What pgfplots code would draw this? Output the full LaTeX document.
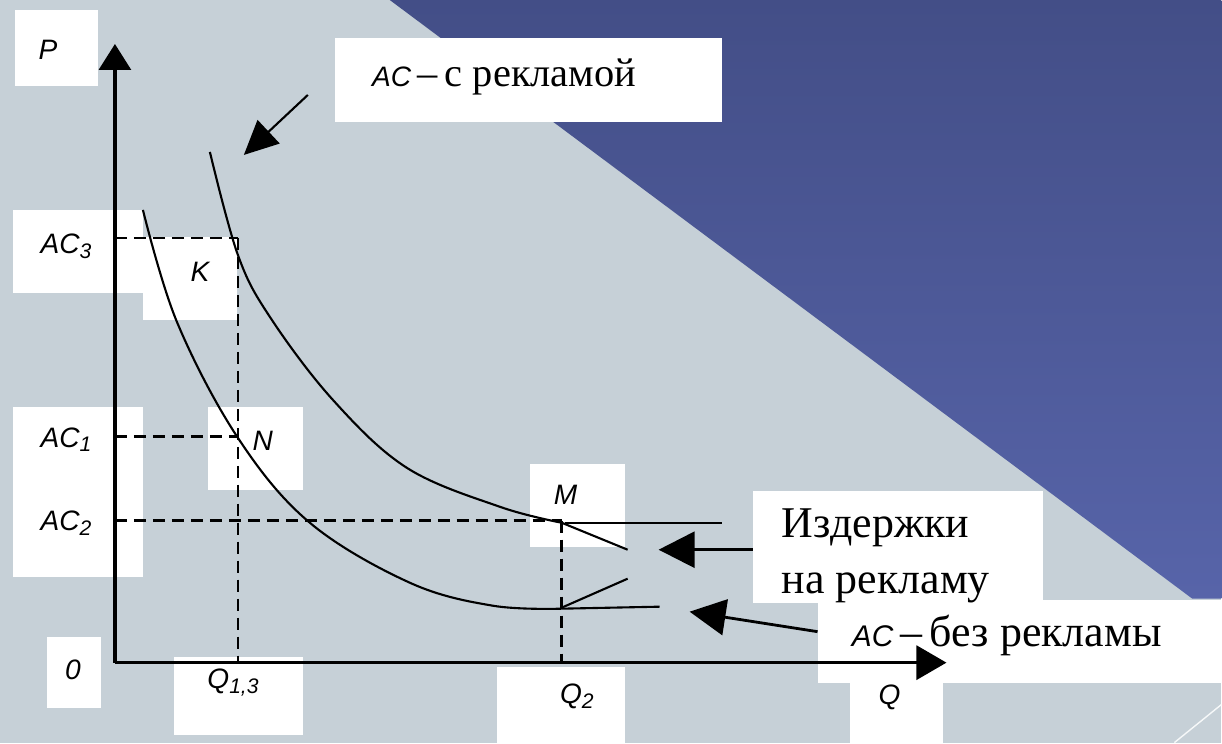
\documentclass[border=0pt]{standalone}
\usepackage{fontspec}
\setmainfont{Liberation Serif}
\setsansfont{Liberation Sans}
\usepackage{pgfplots}
\pgfplotsset{compat=1.18}
\usetikzlibrary{arrows.meta}

\definecolor{bgc}{HTML}{C6D0D7}
\definecolor{dtop}{HTML}{434E87}
\definecolor{dbot}{HTML}{5764A9}

\tikzset{
    lab/.style={font=\sffamily\itshape\fontsize{8}{9}\selectfont},
    dsh/.style={black, line width=0.75pt, dash pattern=on 1.2mm off 0.7mm},
    crv/.style={black, line width=0.6pt, smooth, tension=0.6},
    box/.style={fill=white, draw=none},
}

\begin{document}
\begin{tikzpicture}
\begin{axis}[
    scale only axis,
    width=12.22cm, height=7.43cm,
    xmin=0, xmax=1222, ymin=0, ymax=743,
    y dir=reverse,
    hide axis,
    clip=false,
]
% background
\addplot[fill=bgc, draw=none] coordinates {(0,0) (1222,0) (1222,743) (0,743)} -- cycle;
\addplot[draw=none, top color=dtop, bottom color=dbot] coordinates {(390,0) (1222,0) (1222,599) (1193,599)} -- cycle;
\addplot[white!85!bgc, line width=0.4pt] coordinates {(1222,705) (1175,743)};

% white label boxes
\addplot[box] coordinates {(15,10) (98,10) (98,86) (15,86)} -- cycle;
\addplot[box] coordinates {(335,38) (722,38) (722,122) (335,122)} -- cycle;
\addplot[box] coordinates {(13,210) (143,210) (143,293) (13,293)} -- cycle;
\addplot[box] coordinates {(143,237) (237,237) (237,320) (143,320)} -- cycle;
\addplot[box] coordinates {(13,407) (143,407) (143,577) (13,577)} -- cycle;
\addplot[box] coordinates {(208,407) (303,407) (303,490) (208,490)} -- cycle;
\addplot[box] coordinates {(530,464) (625,464) (625,547) (530,547)} -- cycle;
\addplot[box] coordinates {(47,637) (101,637) (101,708) (47,708)} -- cycle;
\addplot[box] coordinates {(174,657) (303,657) (303,735) (174,735)} -- cycle;
\addplot[box] coordinates {(497,667) (625,667) (625,743) (497,743)} -- cycle;
\addplot[box] coordinates {(753,491) (1044,491) (1044,603) (753,603)} -- cycle;
\addplot[box] coordinates {(818,600) (1222,600) (1222,683) (818,683)} -- cycle;
\addplot[box] coordinates {(850,683) (944,683) (944,743) (850,743)} -- cycle;

% dashed guide lines
\addplot[dsh] coordinates {(115,238) (238,238)};
\addplot[dsh] coordinates {(238,238) (238,663)};
\addplot[dsh] coordinates {(115,437) (238,437)};
\addplot[dsh] coordinates {(115,521) (562,521)};
\addplot[dsh] coordinates {(562,521) (562,663)};

% AC without advertising
\addplot[crv] coordinates {(143,210) (177,322) (238,438) (310,523)
    (410,583) (493,606) (562,609)};
\addplot[black, line width=0.6pt] coordinates {(562,609) (660,607)};
\addplot[black, line width=0.6pt] coordinates {(562,608) (628,579)};

% AC with advertising
\addplot[crv] coordinates {(210,152) (238,255) (270,317) (333,400)
    (407,468) (500,507) (562,523)};
\addplot[black, line width=0.6pt] coordinates {(562,523) (628,550)};
\addplot[black, line width=0.6pt] coordinates {(565,523) (722,523)};

% axes
\addplot[black, line width=0.9pt, -{Triangle[length=2.6mm, width=3.2mm]}] coordinates {(115,663) (115,44)};
\addplot[black, line width=0.9pt, -{Triangle[length=3mm, width=3.4mm]}] coordinates {(115,663) (947,663)};

% callout arrows
\addplot[black, line width=0.6pt, -{Triangle[length=3.4mm, width=3.2mm]}] coordinates {(308,95) (244,155)};
\addplot[black, line width=0.8pt, -{Triangle[length=3.6mm, width=3.6mm]}] coordinates {(753,550) (659,550)};
\addplot[black, line width=0.8pt, -{Triangle[length=3.6mm, width=3.6mm]}] coordinates {(818,632) (690,612)};

% labels
\node[lab] at (axis cs:48,50) {P};
\node[lab] at (axis cs:67,246) {AC\textsubscript{3}};
\node[lab] at (axis cs:200,272) {K};
\node[lab] at (axis cs:67,440) {AC\textsubscript{1}};
\node[lab] at (axis cs:263,441) {N};
\node[lab] at (axis cs:67,523) {AC\textsubscript{2}};
\node[lab] at (axis cs:73,670) {0};
\node[lab] at (axis cs:234,683) {Q\textsubscript{1,3}};
\node[lab] at (axis cs:566,495) {M};
\node[lab] at (axis cs:578,697) {Q\textsubscript{2}};
\node[lab] at (axis cs:890,698) {Q};

\node[anchor=west, font=\fontsize{11.5}{12}\selectfont] at (axis cs:360,77)
    {{\sffamily\itshape\fontsize{8}{9}\selectfont AC}\,–\,с рекламой};
\node[anchor=west, font=\fontsize{12.5}{13}\selectfont, align=left] at (axis cs:770,556)
    {Издержки\\[1mm]на рекламу};
\node[anchor=west, font=\fontsize{12.5}{13}\selectfont] at (axis cs:840,636)
    {{\sffamily\itshape\fontsize{8.5}{9}\selectfont AC}\,–\,без рекламы};
\end{axis}
\end{tikzpicture}
\end{document}
